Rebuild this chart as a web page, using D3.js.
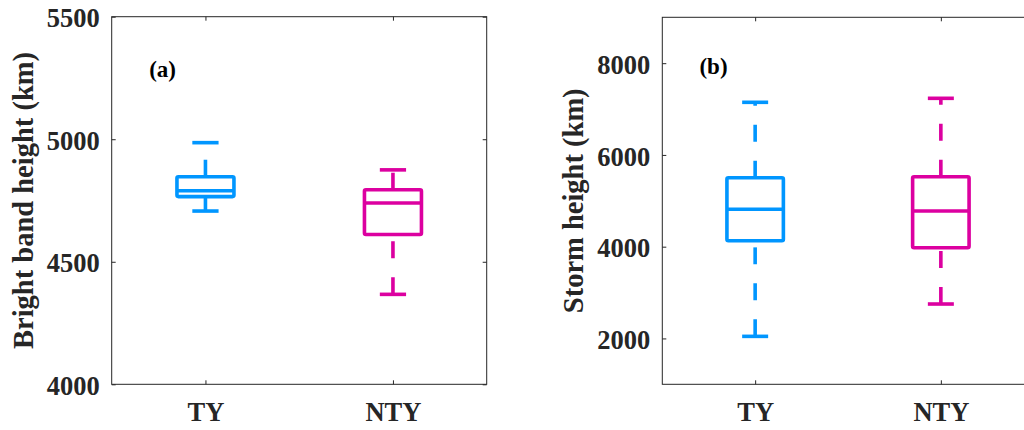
<!DOCTYPE html>
<html>
<head>
<meta charset="utf-8">
<script src="https://cdn.jsdelivr.net/npm/d3@7"></script>
<style>
  html, body { margin: 0; padding: 0; background: #fff; }
  text { font-family: "Liberation Serif", "Times New Roman", serif; font-weight: bold; }
</style>
</head>
<body>
<div id="chartDiv"></div>
<script>
// categories and box statistics: [lower whisker, q1, median, q3, upper whisker]
var categories = ["TY", "NTY"];
var colors = ["#0096ff", "#dc00a0"];

var brightBandStats = [
    [4707, 4766, 4790, 4847, 4986],
    [4367, 4611, 4740, 4794, 4875]
];
var stormStats = [
    [2045, 4130, 4815, 5503, 7147],
    [2750, 3978, 4778, 5525, 7234]
];

var brightBandTicks = [4000, 4500, 5000, 5500];
var stormTicks = [2000, 4000, 6000, 8000];

var width = 1024,
    height = 430;

var svg = d3.select("#chartDiv")
    .append("svg")
    .attr("width", width)
    .attr("height", height);

var ink = "#262626";

// one panel = one boxplot axes
function drawPanel(opts) {
    var x = d3.scaleLinear().domain([0.5, 2.5]).range([opts.left, opts.right]);
    var y = d3.scaleLinear().domain(opts.domain).range([opts.bottom, opts.top]);

    var g = svg.append("g");

    // frame
    g.append("rect")
        .attr("x", opts.left)
        .attr("y", opts.top)
        .attr("width", opts.right - opts.left)
        .attr("height", opts.bottom - opts.top)
        .attr("fill", "none")
        .attr("stroke", ink)
        .attr("stroke-width", 1);

    // left axis with labels, ticks pointing inward
    var left = g.append("g")
        .attr("transform", "translate(" + opts.left + ",0)")
        .call(d3.axisLeft(y).tickValues(opts.ticks).tickSize(-4).tickPadding(12).tickFormat(d3.format("d")));
    // right ticks (mirror)
    var right = g.append("g")
        .attr("transform", "translate(" + opts.right + ",0)")
        .call(d3.axisRight(y).tickValues(opts.ticks).tickSize(-4).tickFormat(""));
    // bottom axis
    var bottom = g.append("g")
        .attr("transform", "translate(0," + opts.bottom + ")")
        .call(d3.axisBottom(x).tickValues([1, 2]).tickSize(-4).tickPadding(18)
            .tickFormat(function (d) { return categories[d - 1]; }));
    var top = g.append("g")
        .attr("transform", "translate(0," + opts.top + ")")
        .call(d3.axisTop(x).tickValues([1, 2]).tickSize(-4).tickFormat(""));

    [left, right, bottom, top].forEach(function (a) {
        a.select(".domain").remove();
        a.selectAll(".tick line").attr("stroke", ink);
        a.selectAll("text").attr("fill", ink).style("font-size", "26.5px");
    });
    left.selectAll("text").attr("dy", "0.38em");
    bottom.selectAll("text").attr("dy", "0.71em");

    // y label
    g.append("text")
        .attr("transform", "translate(" + (opts.left - 79) + "," + ((opts.top + opts.bottom) / 2) + ") rotate(-90)")
        .attr("text-anchor", "middle")
        .attr("fill", ink)
        .style("font-size", "28.5px")
        .text(opts.ylabel);

    // panel letter
    g.append("text")
        .attr("x", x(0.7))
        .attr("y", y(opts.letterY))
        .attr("fill", "#000")
        .style("font-size", "23px")
        .text(opts.letter);

    var boxHalf = 0.152, capHalf = 0.07;

    var boxes = g.selectAll(".box")
        .data(opts.stats)
        .enter().append("g")
        .attr("class", "box")
        .attr("stroke", function (d, i) { return colors[i]; })
        .attr("stroke-width", 3.6)
        .attr("fill", "none");

    // whiskers, dashed, drawn from low value upward
    boxes.append("line")
        .attr("x1", function (d, i) { return x(i + 1); })
        .attr("x2", function (d, i) { return x(i + 1); })
        .attr("y1", function (d) { return y(d[3]); })
        .attr("y2", function (d) { return y(d[4]); })
        .attr("stroke-dasharray", "17,19");
    boxes.append("line")
        .attr("x1", function (d, i) { return x(i + 1); })
        .attr("x2", function (d, i) { return x(i + 1); })
        .attr("y1", function (d) { return y(d[0]); })
        .attr("y2", function (d) { return y(d[1]); })
        .attr("stroke-dasharray", "17,19");

    // caps
    [0, 4].forEach(function (k) {
        boxes.append("line")
            .attr("x1", function (d, i) { return x(i + 1 - capHalf); })
            .attr("x2", function (d, i) { return x(i + 1 + capHalf); })
            .attr("y1", function (d) { return y(d[k]); })
            .attr("y2", function (d) { return y(d[k]); });
    });

    // box
    boxes.append("rect")
        .attr("x", function (d, i) { return x(i + 1 - boxHalf); })
        .attr("width", function (d, i) { return x(i + 1 + boxHalf) - x(i + 1 - boxHalf); })
        .attr("y", function (d) { return y(d[3]); })
        .attr("height", function (d) { return y(d[1]) - y(d[3]); })
        .attr("rx", 1.5);

    // median
    boxes.append("line")
        .attr("x1", function (d, i) { return x(i + 1 - boxHalf); })
        .attr("x2", function (d, i) { return x(i + 1 + boxHalf); })
        .attr("y1", function (d) { return y(d[2]); })
        .attr("y2", function (d) { return y(d[2]); });
}

drawPanel({
    left: 111.7, right: 486.7, top: 16.7, bottom: 384.3,
    domain: [4000, 5500], ticks: brightBandTicks,
    stats: brightBandStats,
    ylabel: "Bright band height (km)",
    letter: "(a)", letterY: 5253
});

drawPanel({
    left: 662.3, right: 1033.7, top: 17.3, bottom: 384.3,
    domain: [1000, 9000], ticks: stormTicks,
    stats: stormStats,
    ylabel: "Storm height (km)",
    letter: "(b)", letterY: 7764
});
</script>
</body>
</html>
